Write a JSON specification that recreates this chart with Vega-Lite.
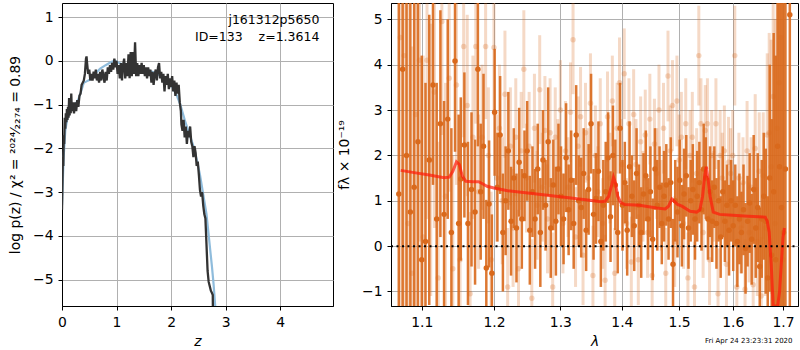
{
  "$schema": "https://vega.github.io/schema/vega-lite/v6.json",
  "padding": {"left": 8, "top": 1, "right": 1, "bottom": 0},
  "spacing": 3,
  "config": {
    "font": "DejaVu Sans",
    "view": {"stroke": "black", "strokeWidth": 1},
    "axis": {
      "domainColor": "black", "tickColor": "black", "gridColor": "#b0b0b0", "gridWidth": 1,
      "labelFont": "DejaVu Sans", "labelFontSize": 13.9, "labelColor": "black",
      "titleFont": "DejaVu Sans", "titleFontSize": 13.9, "titleFontWeight": "normal", "titleColor": "black",
      "tickSize": 4, "labelPadding": 5, "titlePadding": 10, "labelFlush": false, "labelOverlap": false
    }
  },
  "title": {"text": "Fri Apr 24 23:23:31 2020", "orient": "bottom", "anchor": "end", "fontSize": 7, "fontWeight": "normal", "font": "DejaVu Sans", "offset": -12, "dx": -10},
  "datasets": {
    "pz": [
      {"z":0.000,"p":-3.4},{"z":0.008,"p":-2.8},{"z":0.016,"p":-2.2},{"z":0.024,"p":-2.4},{"z":0.032,"p":-1.7},{"z":0.04,"p":-1.9},{"z":0.05,"p":-1.3},{"z":0.06,"p":-1.55},{"z":0.07,"p":-1.2},{"z":0.08,"p":-1.4},{"z":0.09,"p":-1.1},{"z":0.10,"p":-1.35},{"z":0.11,"p":-1.05},{"z":0.12,"p":-1.3},{"z":0.13,"p":-0.85},{"z":0.14,"p":-1.25},{"z":0.15,"p":-0.9},{"z":0.16,"p":-1.2},{"z":0.17,"p":-0.75},{"z":0.18,"p":-1.15},{"z":0.20,"p":-0.95},{"z":0.22,"p":-1.2},{"z":0.24,"p":-0.95},{"z":0.26,"p":-1.15},{"z":0.28,"p":-0.9},{"z":0.30,"p":-1.05},{"z":0.32,"p":-0.8},{"z":0.34,"p":-0.75},{"z":0.36,"p":-0.55},{"z":0.38,"p":-0.5},
      {"z":0.40,"p":-0.45},{"z":0.42,"p":-0.3},{"z":0.44,"p":0.05},{"z":0.45,"p":0.1},{"z":0.46,"p":-0.05},{"z":0.48,"p":-0.3},{"z":0.50,"p":-0.2},{"z":0.52,"p":-0.45},{"z":0.54,"p":-0.3},{"z":0.56,"p":-0.45},{"z":0.58,"p":-0.25},{"z":0.60,"p":-0.4},{"z":0.62,"p":-0.2},{"z":0.64,"p":-0.45},{"z":0.66,"p":-0.3},{"z":0.68,"p":-0.5},{"z":0.70,"p":-0.25},{"z":0.72,"p":-0.45},{"z":0.74,"p":-0.2},{"z":0.76,"p":-0.35},{"z":0.78,"p":-0.5},{"z":0.80,"p":-0.25},{"z":0.82,"p":-0.45},{"z":0.84,"p":-0.15},{"z":0.86,"p":-0.3},{"z":0.88,"p":-0.1},{"z":0.90,"p":-0.25},{"z":0.92,"p":-0.05},{"z":0.94,"p":-0.2},{"z":0.96,"p":0.05},{"z":0.98,"p":-0.15},{"z":1.00,"p":0.0},{"z":1.02,"p":-0.3},{"z":1.04,"p":-0.1},{"z":1.06,"p":-0.4},{"z":1.08,"p":-0.05},{"z":1.10,"p":-0.45},{"z":1.12,"p":-0.1},{"z":1.14,"p":0.05},{"z":1.16,"p":-0.4},{"z":1.18,"p":-0.05},{"z":1.20,"p":-0.35},{"z":1.22,"p":0.15},{"z":1.24,"p":-0.4},{"z":1.26,"p":0.2},{"z":1.28,"p":-0.35},{"z":1.30,"p":0.2},{"z":1.32,"p":-0.3},{"z":1.34,"p":0.42},{"z":1.36,"p":-0.35},{"z":1.38,"p":-0.05},{"z":1.40,"p":-0.35},{"z":1.42,"p":-0.1},{"z":1.44,"p":-0.3},{"z":1.46,"p":-0.05},{"z":1.48,"p":-0.3},{"z":1.50,"p":-0.1},{"z":1.52,"p":-0.35},{"z":1.54,"p":-0.15},{"z":1.56,"p":-0.4},{"z":1.58,"p":-0.15},{"z":1.60,"p":-0.35},{"z":1.62,"p":-0.2},{"z":1.64,"p":-0.5},{"z":1.66,"p":-0.25},{"z":1.68,"p":-0.55},{"z":1.70,"p":-0.3},{"z":1.72,"p":-0.2},{"z":1.74,"p":-0.45},{"z":1.76,"p":-0.15},{"z":1.78,"p":-0.05},{"z":1.80,"p":-0.4},{"z":1.82,"p":-0.25},{"z":1.84,"p":-0.5},{"z":1.86,"p":-0.3},{"z":1.88,"p":-0.7},{"z":1.90,"p":-0.35},{"z":1.92,"p":-0.55},{"z":1.94,"p":-0.3},{"z":1.96,"p":-0.65},{"z":1.98,"p":-0.4},{"z":2.00,"p":-0.6},{"z":2.02,"p":-0.35},{"z":2.04,"p":-0.7},{"z":2.06,"p":-0.45},{"z":2.08,"p":-0.8},{"z":2.10,"p":-0.5},{"z":2.12,"p":-0.75},{"z":2.14,"p":-0.55},{"z":2.16,"p":-0.95},{"z":2.18,"p":-1.15},
      {"z":2.19,"p":-1.45},{"z":2.21,"p":-1.6},{"z":2.23,"p":-1.35},{"z":2.25,"p":-1.75},{"z":2.27,"p":-1.5},{"z":2.29,"p":-1.9},{"z":2.31,"p":-1.6},{"z":2.33,"p":-1.75},{"z":2.35,"p":-1.5},{"z":2.37,"p":-1.85},{"z":2.39,"p":-1.95},{"z":2.41,"p":-2.2},{"z":2.43,"p":-1.95},{"z":2.45,"p":-2.1},{"z":2.47,"p":-2.4},{"z":2.49,"p":-2.3},{"z":2.51,"p":-2.6},{"z":2.53,"p":-2.95},{"z":2.55,"p":-3.1},{"z":2.57,"p":-3.0},{"z":2.59,"p":-3.3},{"z":2.61,"p":-3.5},{"z":2.63,"p":-3.6},{"z":2.65,"p":-4.2},{"z":2.67,"p":-4.8},{"z":2.69,"p":-5.05},{"z":2.71,"p":-5.15},{"z":2.73,"p":-5.25},{"z":2.75,"p":-5.3},{"z":2.765,"p":-5.35},{"z":2.77,"p":-6.0}
    ],
    "pzfit": [
      {"z":0.0,"p":-3.3},{"z":0.03,"p":-2.2},{"z":0.06,"p":-1.6},{"z":0.1,"p":-1.3},{"z":0.15,"p":-1.15},{"z":0.2,"p":-1.05},{"z":0.25,"p":-0.98},{"z":0.3,"p":-0.88},{"z":0.35,"p":-0.7},{"z":0.4,"p":-0.5},{"z":0.45,"p":-0.47},{"z":0.5,"p":-0.44},{"z":0.6,"p":-0.3},{"z":0.7,"p":-0.18},{"z":0.8,"p":-0.1},{"z":0.9,"p":-0.03},{"z":0.97,"p":0.0},{"z":1.05,"p":-0.05},{"z":1.15,"p":-0.1},{"z":1.3,"p":-0.14},{"z":1.45,"p":-0.17},{"z":1.6,"p":-0.22},{"z":1.75,"p":-0.3},{"z":1.9,"p":-0.42},{"z":2.0,"p":-0.55},{"z":2.1,"p":-0.78},{"z":2.17,"p":-1.0},{"z":2.25,"p":-1.35},{"z":2.33,"p":-1.65},{"z":2.41,"p":-1.95},{"z":2.47,"p":-2.25},{"z":2.53,"p":-2.6},{"z":2.59,"p":-3.05},{"z":2.65,"p":-3.5},{"z":2.7,"p":-4.1},{"z":2.75,"p":-4.7},{"z":2.78,"p":-5.1},{"z":2.81,"p":-5.6},{"z":2.83,"p":-5.9}
    ],
    "ann": [{"z": 4.72, "p": 1.07, "t": "j161312p5650"}, {"z": 4.72, "p": 0.67, "t": "ID=133\u00a0\u00a0\u00a0\u00a0z=1.3614"}],
    "lt": [
      {"w":1.072,"f":4.6,"e":6},{"w":1.077,"f":4.2,"e":6},{"w":1.082,"f":0.5,"e":5},{"w":1.087,"f":-0.6,"e":5},{"w":1.092,"f":2.9,"e":4.5},{"w":1.097,"f":4.1,"e":4},{"w":1.102,"f":0.2,"e":4},{"w":1.107,"f":4.1,"e":3.5},{"w":1.112,"f":1.9,"e":3},{"w":1.117,"f":3.4,"e":3},{"w":1.122,"f":-0.7,"e":3},{"w":1.127,"f":4.95,"e":2.5},{"w":1.132,"f":1.1,"e":2.5},{"w":1.137,"f":3.7,"e":2.5},{"w":1.142,"f":-0.5,"e":2.5},{"w":1.147,"f":3.55,"e":2.2},{"w":1.152,"f":-0.3,"e":2.2},{"w":1.157,"f":4.4,"e":2.0},{"w":1.162,"f":3.1,"e":2.0},{"w":1.166,"f":-1.05,"e":1.8},{"w":1.170,"f":2.4,"e":1.8},{"w":1.174,"f":4.4,"e":1.7},{"w":1.178,"f":1.2,"e":1.7},{"w":1.183,"f":2.4,"e":1.6},{"w":1.188,"f":4.4,"e":1.6},{"w":1.192,"f":2.0,"e":1.5},{"w":1.196,"f":-0.3,"e":1.5},{"w":1.200,"f":4.38,"e":1.5},{"w":1.204,"f":1.5,"e":1.4},{"w":1.208,"f":2.6,"e":1.4},{"w":1.212,"f":1.0,"e":1.4},{"w":1.216,"f":3.35,"e":1.4},{"w":1.220,"f":-0.9,"e":1.3},{"w":1.224,"f":2.2,"e":1.3},{"w":1.228,"f":0.4,"e":1.3},{"w":1.232,"f":2.4,"e":1.3},{"w":1.236,"f":-0.5,"e":1.3},{"w":1.240,"f":2.1,"e":1.3},{"w":1.244,"f":3.9,"e":1.3},{"w":1.248,"f":1.5,"e":1.2},{"w":1.252,"f":2.2,"e":1.2},{"w":1.256,"f":-1.15,"e":1.3},{"w":1.260,"f":2.6,"e":1.2},{"w":1.264,"f":0.9,"e":1.2},{"w":1.268,"f":3.45,"e":1.2},{"w":1.272,"f":1.3,"e":1.2},{"w":1.276,"f":2.55,"e":1.2},{"w":1.280,"f":0.6,"e":1.2},{"w":1.284,"f":2.5,"e":1.2},{"w":1.288,"f":-0.9,"e":1.2},{"w":1.292,"f":2.4,"e":1.1},{"w":1.296,"f":1.7,"e":1.1},{"w":1.300,"f":3.0,"e":1.1},{"w":1.304,"f":0.5,"e":1.1},{"w":1.308,"f":2.1,"e":1.1},{"w":1.312,"f":1.3,"e":1.1},{"w":1.316,"f":2.95,"e":1.1},{"w":1.320,"f":4.55,"e":1.2},{"w":1.324,"f":0.2,"e":1.1},{"w":1.328,"f":2.2,"e":1.1},{"w":1.332,"f":2.85,"e":1.1},{"w":1.336,"f":-0.2,"e":1.1},{"w":1.340,"f":2.5,"e":1.1},{"w":1.344,"f":1.5,"e":1.1},{"w":1.348,"f":3.15,"e":1.1},{"w":1.352,"f":-0.65,"e":1.1},{"w":1.356,"f":2.0,"e":1.1},{"w":1.360,"f":1.2,"e":1.0},{"w":1.364,"f":2.7,"e":1.0},{"w":1.368,"f":0.5,"e":1.0},{"w":1.372,"f":-0.75,"e":1.0},{"w":1.376,"f":2.85,"e":1.0},{"w":1.380,"f":1.5,"e":1.0},{"w":1.384,"f":3.2,"e":1.0},{"w":1.388,"f":-0.6,"e":1.0},{"w":1.392,"f":2.6,"e":1.0},{"w":1.396,"f":3.6,"e":1.0},{"w":1.400,"f":1.8,"e":1.0},{"w":1.404,"f":3.8,"e":1.0},{"w":1.408,"f":0.5,"e":1.0},{"w":1.412,"f":2.7,"e":1.0},{"w":1.416,"f":-0.35,"e":1.0},{"w":1.420,"f":2.9,"e":1.0},{"w":1.424,"f":1.8,"e":1.0},{"w":1.428,"f":-0.3,"e":1.0},{"w":1.432,"f":2.3,"e":1.0},{"w":1.436,"f":1.1,"e":1.0},{"w":1.440,"f":2.45,"e":1.0},{"w":1.444,"f":0.3,"e":1.0},{"w":1.448,"f":2.8,"e":1.0},{"w":1.452,"f":-0.65,"e":1.0},{"w":1.456,"f":2.25,"e":1.0},{"w":1.460,"f":1.6,"e":1.0},{"w":1.464,"f":3.0,"e":1.0},{"w":1.468,"f":0.9,"e":1.0},{"w":1.472,"f":2.6,"e":1.0},{"w":1.476,"f":-0.6,"e":1.0},{"w":1.480,"f":3.75,"e":1.0},{"w":1.484,"f":2.1,"e":1.0},{"w":1.488,"f":3.1,"e":1.0},{"w":1.492,"f":0.1,"e":1.0},{"w":1.496,"f":3.2,"e":1.0},{"w":1.500,"f":1.9,"e":1.0},{"w":1.504,"f":2.4,"e":1.0},{"w":1.508,"f":0.5,"e":1.0},{"w":1.512,"f":2.7,"e":1.0},{"w":1.516,"f":-0.7,"e":1.0},{"w":1.520,"f":2.0,"e":1.0},{"w":1.524,"f":2.4,"e":1.0},{"w":1.528,"f":-0.9,"e":1.0},{"w":1.532,"f":1.6,"e":1.0},{"w":1.536,"f":4.2,"e":1.1},{"w":1.540,"f":2.7,"e":1.0},{"w":1.544,"f":0.3,"e":1.0},{"w":1.548,"f":2.55,"e":1.0},{"w":1.552,"f":2.7,"e":1.0},{"w":1.556,"f":-0.3,"e":1.0},{"w":1.560,"f":2.0,"e":1.0},{"w":1.564,"f":1.1,"e":1.0},{"w":1.568,"f":2.7,"e":1.0},{"w":1.572,"f":-1.05,"e":1.0},{"w":1.576,"f":2.0,"e":1.0},{"w":1.580,"f":1.5,"e":1.0},{"w":1.584,"f":2.1,"e":1.0},{"w":1.588,"f":-0.4,"e":1.0},{"w":1.592,"f":1.85,"e":1.0},{"w":1.596,"f":1.6,"e":1.0},{"w":1.600,"f":2.0,"e":1.0},{"w":1.604,"f":4.2,"e":1.1},{"w":1.608,"f":-0.9,"e":1.0},{"w":1.612,"f":1.5,"e":1.0},{"w":1.616,"f":0.4,"e":1.0},{"w":1.620,"f":1.4,"e":1.0},{"w":1.624,"f":-0.95,"e":1.1},{"w":1.628,"f":2.1,"e":1.1},{"w":1.632,"f":0.3,"e":1.1},{"w":1.636,"f":1.3,"e":1.1},{"w":1.640,"f":-0.85,"e":1.2},{"w":1.644,"f":2.15,"e":1.2},{"w":1.648,"f":0.1,"e":1.2},{"w":1.652,"f":1.65,"e":1.3},{"w":1.656,"f":-1.1,"e":1.3},{"w":1.660,"f":1.55,"e":1.4},{"w":1.664,"f":0.4,"e":1.5},{"w":1.668,"f":2.45,"e":1.8},{"w":1.672,"f":2.5,"e":2.2},{"w":1.676,"f":1.75,"e":2.8},{"w":1.680,"f":3.3,"e":3.5},{"w":1.684,"f":0.5,"e":4.5},{"w":1.688,"f":2.6,"e":5},{"w":1.692,"f":3.6,"e":6},{"w":1.696,"f":4.6,"e":6},{"w":1.700,"f":-0.3,"e":7}
    ],
    "dk": [
      {"w":1.070,"f":1.15,"e":6},{"w":1.075,"f":3.9,"e":6},{"w":1.080,"f":2.0,"e":5},{"w":1.085,"f":0.75,"e":5},{"w":1.090,"f":1.3,"e":4.5},{"w":1.095,"f":2.3,"e":4},{"w":1.100,"f":-0.3,"e":4.5},{"w":1.105,"f":0.1,"e":3.5},{"w":1.110,"f":1.9,"e":3.2},{"w":1.115,"f":3.55,"e":2.2},{"w":1.120,"f":0.6,"e":3.0},{"w":1.125,"f":2.7,"e":2.5},{"w":1.130,"f":0.7,"e":2.5},{"w":1.135,"f":2.8,"e":2.2},{"w":1.140,"f":0.3,"e":2.3},{"w":1.145,"f":4.08,"e":2.0},{"w":1.150,"f":0.5,"e":2.4},{"w":1.153,"f":1.48,"e":1.8},{"w":1.158,"f":2.23,"e":1.6},{"w":1.163,"f":0.5,"e":1.8},{"w":1.168,"f":1.25,"e":1.7},{"w":1.173,"f":0.75,"e":1.6},{"w":1.177,"f":3.9,"e":1.7},{"w":1.181,"f":1.2,"e":1.5},{"w":1.185,"f":2.2,"e":1.6},{"w":1.189,"f":-0.48,"e":1.5},{"w":1.193,"f":0.93,"e":1.4},{"w":1.197,"f":-0.6,"e":1.3},{"w":1.201,"f":2.95,"e":1.4},{"w":1.205,"f":1.3,"e":1.2},{"w":1.209,"f":2.45,"e":1.3},{"w":1.213,"f":0.3,"e":1.3},{"w":1.217,"f":1.0,"e":1.2},{"w":1.221,"f":2.1,"e":1.3},{"w":1.225,"f":0.55,"e":1.2},{"w":1.229,"f":1.5,"e":1.1},{"w":1.233,"f":0.4,"e":1.2},{"w":1.237,"f":1.85,"e":1.2},{"w":1.241,"f":0.6,"e":1.1},{"w":1.245,"f":1.55,"e":1.0},{"w":1.249,"f":2.1,"e":1.1},{"w":1.253,"f":0.35,"e":1.2},{"w":1.257,"f":1.2,"e":1.0},{"w":1.261,"f":0.6,"e":1.1},{"w":1.265,"f":1.7,"e":1.0},{"w":1.269,"f":0.3,"e":1.2},{"w":1.273,"f":1.9,"e":1.1},{"w":1.277,"f":0.9,"e":1.0},{"w":1.281,"f":2.3,"e":1.2},{"w":1.285,"f":0.4,"e":1.1},{"w":1.289,"f":1.35,"e":1.0},{"w":1.293,"f":0.55,"e":1.2},{"w":1.297,"f":1.7,"e":1.0},{"w":1.301,"f":1.1,"e":1.1},{"w":1.305,"f":0.6,"e":1.0},{"w":1.309,"f":1.95,"e":1.2},{"w":1.313,"f":0.8,"e":1.0},{"w":1.317,"f":1.45,"e":1.1},{"w":1.321,"f":0.5,"e":1.0},{"w":1.325,"f":2.45,"e":1.1},{"w":1.329,"f":1.0,"e":1.0},{"w":1.333,"f":0.85,"e":1.1},{"w":1.337,"f":1.6,"e":1.0},{"w":1.341,"f":0.35,"e":0.9},{"w":1.345,"f":1.25,"e":1.0},{"w":1.349,"f":2.7,"e":1.1},{"w":1.353,"f":0.7,"e":1.0},{"w":1.357,"f":1.05,"e":1.0},{"w":1.361,"f":1.65,"e":1.1},{"w":1.365,"f":0.1,"e":1.0},{"w":1.369,"f":0.9,"e":1.0},{"w":1.373,"f":1.2,"e":1.1},{"w":1.377,"f":1.95,"e":1.0},{"w":1.381,"f":0.65,"e":1.0},{"w":1.385,"f":2.0,"e":1.1},{"w":1.389,"f":1.35,"e":1.0},{"w":1.393,"f":0.3,"e":0.9},{"w":1.397,"f":2.6,"e":1.0},{"w":1.401,"f":0.9,"e":1.0},{"w":1.405,"f":1.4,"e":0.9},{"w":1.409,"f":0.35,"e":1.0},{"w":1.413,"f":1.75,"e":1.0},{"w":1.417,"f":1.1,"e":0.9},{"w":1.421,"f":0.45,"e":1.0},{"w":1.425,"f":1.6,"e":1.0},{"w":1.429,"f":0.9,"e":0.9},{"w":1.433,"f":0.3,"e":1.0},{"w":1.437,"f":1.15,"e":0.9},{"w":1.441,"f":1.55,"e":1.0},{"w":1.445,"f":0.6,"e":0.9},{"w":1.449,"f":1.2,"e":1.0},{"w":1.453,"f":0.15,"e":0.9},{"w":1.457,"f":1.7,"e":0.9},{"w":1.461,"f":0.9,"e":1.0},{"w":1.465,"f":1.3,"e":0.9},{"w":1.469,"f":0.5,"e":0.9},{"w":1.473,"f":1.1,"e":1.0},{"w":1.477,"f":1.35,"e":0.9},{"w":1.481,"f":0.6,"e":0.9},{"w":1.485,"f":1.4,"e":1.0},{"w":1.489,"f":-0.4,"e":1.0},{"w":1.493,"f":1.0,"e":0.9},{"w":1.497,"f":0.75,"e":1.0},{"w":1.501,"f":1.45,"e":0.9},{"w":1.505,"f":0.45,"e":0.9},{"w":1.509,"f":1.15,"e":1.0},{"w":1.513,"f":1.55,"e":0.9},{"w":1.517,"f":0.4,"e":0.9},{"w":1.521,"f":1.0,"e":0.9},{"w":1.525,"f":1.25,"e":1.0},{"w":1.529,"f":0.6,"e":0.9},{"w":1.533,"f":1.1,"e":1.0},{"w":1.537,"f":1.4,"e":0.9},{"w":1.541,"f":0.8,"e":0.9},{"w":1.545,"f":1.7,"e":1.0},{"w":1.549,"f":1.5,"e":0.9},{"w":1.553,"f":0.6,"e":0.9},{"w":1.557,"f":1.2,"e":1.0},{"w":1.561,"f":0.55,"e":0.9},{"w":1.565,"f":1.3,"e":0.9},{"w":1.569,"f":0.5,"e":1.0},{"w":1.573,"f":1.0,"e":0.9},{"w":1.577,"f":0.2,"e":0.9},{"w":1.581,"f":1.2,"e":1.0},{"w":1.585,"f":0.55,"e":0.9},{"w":1.589,"f":0.9,"e":0.9},{"w":1.593,"f":0.35,"e":1.0},{"w":1.597,"f":1.0,"e":0.9},{"w":1.601,"f":0.45,"e":1.0},{"w":1.605,"f":0.9,"e":0.9},{"w":1.609,"f":0.1,"e":1.0},{"w":1.613,"f":0.6,"e":1.0},{"w":1.617,"f":0.3,"e":0.9},{"w":1.621,"f":0.8,"e":1.0},{"w":1.625,"f":-0.05,"e":1.0},{"w":1.629,"f":0.55,"e":1.0},{"w":1.633,"f":0.95,"e":1.1},{"w":1.637,"f":0.15,"e":1.0},{"w":1.641,"f":1.25,"e":1.2},{"w":1.645,"f":0.4,"e":1.1},{"w":1.649,"f":0.85,"e":1.2},{"w":1.653,"f":-0.45,"e":1.3},{"w":1.657,"f":0.6,"e":1.3},{"w":1.661,"f":1.1,"e":1.4},{"w":1.665,"f":0.55,"e":1.6},{"w":1.669,"f":-0.7,"e":1.8},{"w":1.673,"f":1.5,"e":2.5},{"w":1.677,"f":-0.2,"e":3.0},{"w":1.681,"f":1.2,"e":3.5},{"w":1.685,"f":-0.3,"e":4.5},{"w":1.689,"f":2.2,"e":5},{"w":1.693,"f":1.75,"e":6},{"w":1.697,"f":0.85,"e":6},{"w":1.701,"f":0.3,"e":7},{"w":1.705,"f":1.7,"e":7},{"w":1.714,"f":5.1,"e":7}
    ],
    "mod": [
      {"w":1.0725,"f":1.67},{"w":1.09,"f":1.62},{"w":1.11,"f":1.57},{"w":1.13,"f":1.51},{"w":1.137,"f":1.52},{"w":1.142,"f":1.65},{"w":1.147,"f":1.86},{"w":1.151,"f":1.8},{"w":1.155,"f":1.55},{"w":1.16,"f":1.43},{"w":1.17,"f":1.42},{"w":1.178,"f":1.42},{"w":1.183,"f":1.38},{"w":1.19,"f":1.32},{"w":1.2,"f":1.28},{"w":1.22,"f":1.22},{"w":1.25,"f":1.17},{"w":1.28,"f":1.12},{"w":1.31,"f":1.07},{"w":1.34,"f":1.02},{"w":1.365,"f":0.98},{"w":1.372,"f":0.99},{"w":1.378,"f":1.1},{"w":1.383,"f":1.35},{"w":1.386,"f":1.52},{"w":1.389,"f":1.4},{"w":1.393,"f":1.1},{"w":1.398,"f":0.96},{"w":1.405,"f":0.92},{"w":1.43,"f":0.9},{"w":1.46,"f":0.84},{"w":1.475,"f":0.82},{"w":1.481,"f":0.88},{"w":1.487,"f":1.04},{"w":1.492,"f":0.98},{"w":1.497,"f":0.92},{"w":1.505,"f":0.88},{"w":1.52,"f":0.77},{"w":1.532,"f":0.75},{"w":1.538,"f":0.8},{"w":1.543,"f":1.1},{"w":1.547,"f":1.55},{"w":1.55,"f":1.75},{"w":1.553,"f":1.5},{"w":1.557,"f":1.1},{"w":1.563,"f":0.75},{"w":1.575,"f":0.7},{"w":1.6,"f":0.68},{"w":1.63,"f":0.66},{"w":1.664,"f":0.64},{"w":1.668,"f":0.55},{"w":1.672,"f":0.3},{"w":1.676,"f":-0.4},{"w":1.68,"f":-1.3},{"w":1.685,"f":-1.6},{"w":1.689,"f":-1.5},{"w":1.693,"f":-1.0},{"w":1.697,"f":-0.3},{"w":1.7,"f":0.2},{"w":1.703,"f":0.4}
    ],
    "zero": [{"w":1.06,"f":0},{"w":1.731,"f":0}]
  },
  "hconcat": [
    {
      "width": 271, "height": 303,
      "encoding": {
        "x": {"field": "z", "type": "quantitative", "scale": {"domain": [0, 4.97], "nice": false, "zero": false},
              "axis": {"values": [0, 1, 2, 3, 4], "format": "d", "title": "z", "titleFontStyle": "italic", "titlePadding": 6}},
        "y": {"field": "p", "type": "quantitative", "scale": {"domain": [-5.6, 1.32], "nice": false, "zero": false},
              "axis": {"values": [-5, -4, -3, -2, -1, 0, 1], "format": "d", "title": "log p(z) / χ² = ²⁰²⁴⁄₂₂₇₄ = 0.89"}}
      },
      "layer": [
        {"data": {"name": "pzfit"}, "mark": {"type": "line", "color": "#8fbcdc", "strokeWidth": 2.2, "clip": true}},
        {"data": {"name": "pz"}, "mark": {"type": "line", "color": "#333333", "strokeWidth": 2.3, "clip": true}},
        {"data": {"name": "ann"}, "mark": {"type": "text", "align": "right", "baseline": "top", "fontSize": 12.5, "font": "DejaVu Sans", "color": "black"},
         "encoding": {"text": {"field": "t"}}}
      ]
    },
    {
      "width": 407, "height": 303,
      "encoding": {
        "x": {"field": "w", "type": "quantitative", "scale": {"type": "log", "domain": [1.06, 1.731], "nice": false, "zero": false},
              "axis": {"values": [1.1, 1.2, 1.3, 1.4, 1.5, 1.6, 1.7], "format": ".1f", "title": "λ", "titleFontStyle": "italic", "titlePadding": 6}},
        "y": {"field": "f", "type": "quantitative", "scale": {"domain": [-1.32, 5.36], "nice": false, "zero": false, "clamp": true},
              "axis": {"values": [-1, 0, 1, 2, 3, 4, 5], "format": "d", "title": "fλ × 10⁻¹⁹"}}
      },
      "layer": [
        {"data": {"name": "lt"}, "mark": {"type": "errorbar", "ticks": false, "thickness": 3, "color": "#d9691c", "opacity": 0.25},
         "encoding": {"yError": {"field": "e"}}},
        {"data": {"name": "lt"}, "mark": {"type": "circle", "size": 30, "color": "#d9691c", "opacity": 0.25}},
        {"data": {"name": "dk"}, "mark": {"type": "errorbar", "ticks": false, "thickness": 2.5, "color": "#d9691c", "opacity": 0.9},
         "encoding": {"yError": {"field": "e"}}},
        {"data": {"name": "dk"}, "mark": {"type": "circle", "size": 30, "color": "#d9691c", "opacity": 1}},
        {"data": {"name": "mod"}, "mark": {"type": "line", "color": "#ff1a0a", "strokeWidth": 3, "opacity": 0.7, "clip": true}},
        {"data": {"name": "zero"}, "mark": {"type": "line", "color": "black", "strokeWidth": 2, "strokeDash": [2, 3.5]}}
      ]
    }
  ]
}
